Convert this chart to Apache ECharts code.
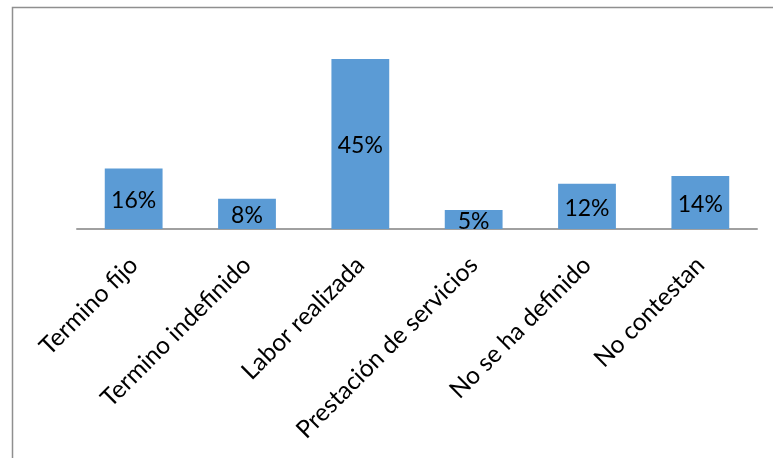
<!DOCTYPE html>
<html>
<head>
<meta charset="utf-8">
<script src="https://cdn.jsdelivr.net/npm/echarts@6/dist/echarts.min.js"></script>
<style>
  html, body { margin: 0; padding: 0; background: #fff; }
  #chart { width: 773px; height: 458px; }
</style>
</head>
<body>
<div id="chart"></div>
<script>
// Tipo de contrato (porcentaje de respuestas)
const categories = [
  'Termino fijo',
  'Termino indefinido',
  'Labor realizada',
  'Prestación de servicios',
  'No se ha definido',
  'No contestan'
];
const percentages = [16, 8, 45, 5, 12, 14];

const FONT = 'Lato, "Noto Sans", sans-serif';

const chart = echarts.init(document.getElementById('chart'), null, { renderer: 'canvas' });

chart.setOption({
  animation: false,
  backgroundColor: '#ffffff',
  graphic: [{
    type: 'rect',
    silent: true,
    shape: { x: 12.5, y: 7.5, width: 820, height: 520 },
    style: { fill: 'none', stroke: '#8f8f8f', lineWidth: 1.5 }
  }],
  grid: { left: 77, right: 16, top: 40, bottom: 229, containLabel: false },
  xAxis: {
    type: 'category',
    data: categories,
    axisLine: { show: true, lineStyle: { color: '#a0a0a0', width: 2 } },
    axisTick: { show: false },
    axisLabel: {
      interval: 0,
      rotate: 45,
      margin: 32,
      color: '#000',
      fontFamily: FONT,
      fontSize: 24.5
    }
  },
  yAxis: {
    type: 'value',
    min: 0,
    max: 50,
    show: false,
    splitLine: { show: false }
  },
  series: [{
    type: 'bar',
    data: percentages,
    barCategoryGap: '49%',
    itemStyle: { color: '#5b9bd5' },
    label: {
      show: true,
      position: 'inside',
      offset: [0, 2],
      formatter: '{c}%',
      color: '#000',
      fontFamily: FONT,
      fontSize: 23
    }
  }]
});
</script>
</body>
</html>
